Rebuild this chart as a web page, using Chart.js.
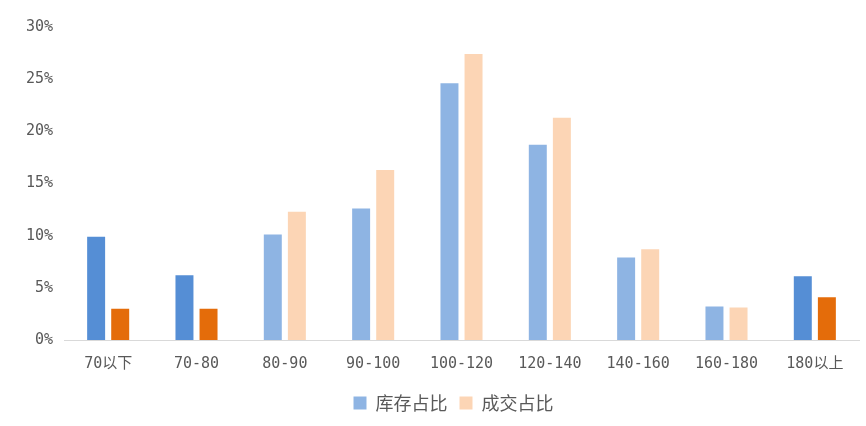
<!DOCTYPE html>
<html>
<head>
<meta charset="utf-8">
<script src="https://cdn.jsdelivr.net/npm/chart.js@4.4.0/dist/chart.umd.min.js"></script>
<style>
  html, body { margin: 0; padding: 0; background: #ffffff; }
  #wrap { width: 866px; height: 426px; }
</style>
</head>
<body>
<div id="wrap"><canvas id="chart"></canvas></div>
<script>
// data (persen)
const kategori = ['70以下', '70-80', '80-90', '90-100', '100-120', '120-140', '140-160', '160-180', '180以上'];
const kucunZhanbi = [10.0, 6.3, 10.2, 12.7, 24.7, 18.8, 8.0, 3.3, 6.2];
const chengjiaoZhanbi = [3.1, 3.1, 12.4, 16.4, 27.5, 21.4, 8.8, 3.2, 4.2];
const yTicks = [0, 5, 10, 15, 20, 25, 30];

// kategori ujung diberi warna lebih gelap
const sorot = [true, true, false, false, false, false, false, false, true];
const biruTerang = '#8EB4E3', biruGelap = '#558ED5';
const oranyeTerang = '#FCD5B5', oranyeGelap = '#E46C0A';

const fontTick = '"DejaVu Sans Mono", "Noto Sans CJK SC", monospace';
const fontCJK = '"Noto Sans CJK SC", "DejaVu Sans", sans-serif';
const textColor = '#595959';

// geser legenda sedikit ke kanan, seperti di gambar
const geserLegenda = {
  id: 'geserLegenda',
  afterLayout(chart) {
    if (!chart.legend) return;
    chart.legend.left += 24;
    chart.legend.right += 24;
  }
};

new Chart(document.getElementById('chart').getContext('2d'), {
  type: 'bar',
  data: {
    labels: kategori,
    datasets: [
      {
        label: '库存占比',
        data: kucunZhanbi,
        backgroundColor: sorot.map(s => s ? biruGelap : biruTerang),
        borderColor: 'rgba(255,255,255,0.6)',
        borderWidth: 1,
        barPercentage: 0.83,
        categoryPercentage: 0.545
      },
      {
        label: '成交占比',
        data: chengjiaoZhanbi,
        backgroundColor: sorot.map(s => s ? oranyeGelap : oranyeTerang),
        borderColor: 'rgba(255,255,255,0.6)',
        borderWidth: 1,
        barPercentage: 0.83,
        categoryPercentage: 0.545
      }
    ]
  },
  plugins: [geserLegenda],
  options: {
    responsive: true,
    maintainAspectRatio: false,
    animation: false,
    layout: { padding: { top: 27, left: 0, right: 7, bottom: 4 } },
    plugins: {
      tooltip: { enabled: false },
      legend: {
        position: 'bottom',
        labels: {
          color: textColor,
          boxWidth: 13,
          boxHeight: 13,
          padding: 12,
          font: { family: fontCJK, size: 18 },
          generateLabels: () => [
            { text: '库存占比', fillStyle: biruTerang, strokeStyle: biruTerang, lineWidth: 0, fontColor: textColor, datasetIndex: 0 },
            { text: '成交占比', fillStyle: oranyeTerang, strokeStyle: oranyeTerang, lineWidth: 0, fontColor: textColor, datasetIndex: 1 }
          ]
        }
      }
    },
    scales: {
      x: {
        grid: { display: false },
        border: { color: '#d9d9d9', width: 1 },
        afterFit: axis => { axis.height = 42; },
        ticks: { color: textColor, font: { family: fontTick, size: 15 }, padding: 7, maxRotation: 0 }
      },
      y: {
        min: 0,
        max: 30,
        afterBuildTicks: axis => { axis.ticks = yTicks.map(v => ({ value: v })); },
        afterFit: axis => { axis.width = 64; },
        grid: { display: false },
        border: { display: false },
        ticks: { color: textColor, font: { family: fontTick, size: 15 }, padding: 3, callback: v => v + '%' }
      }
    }
  }
});
</script>
</body>
</html>
